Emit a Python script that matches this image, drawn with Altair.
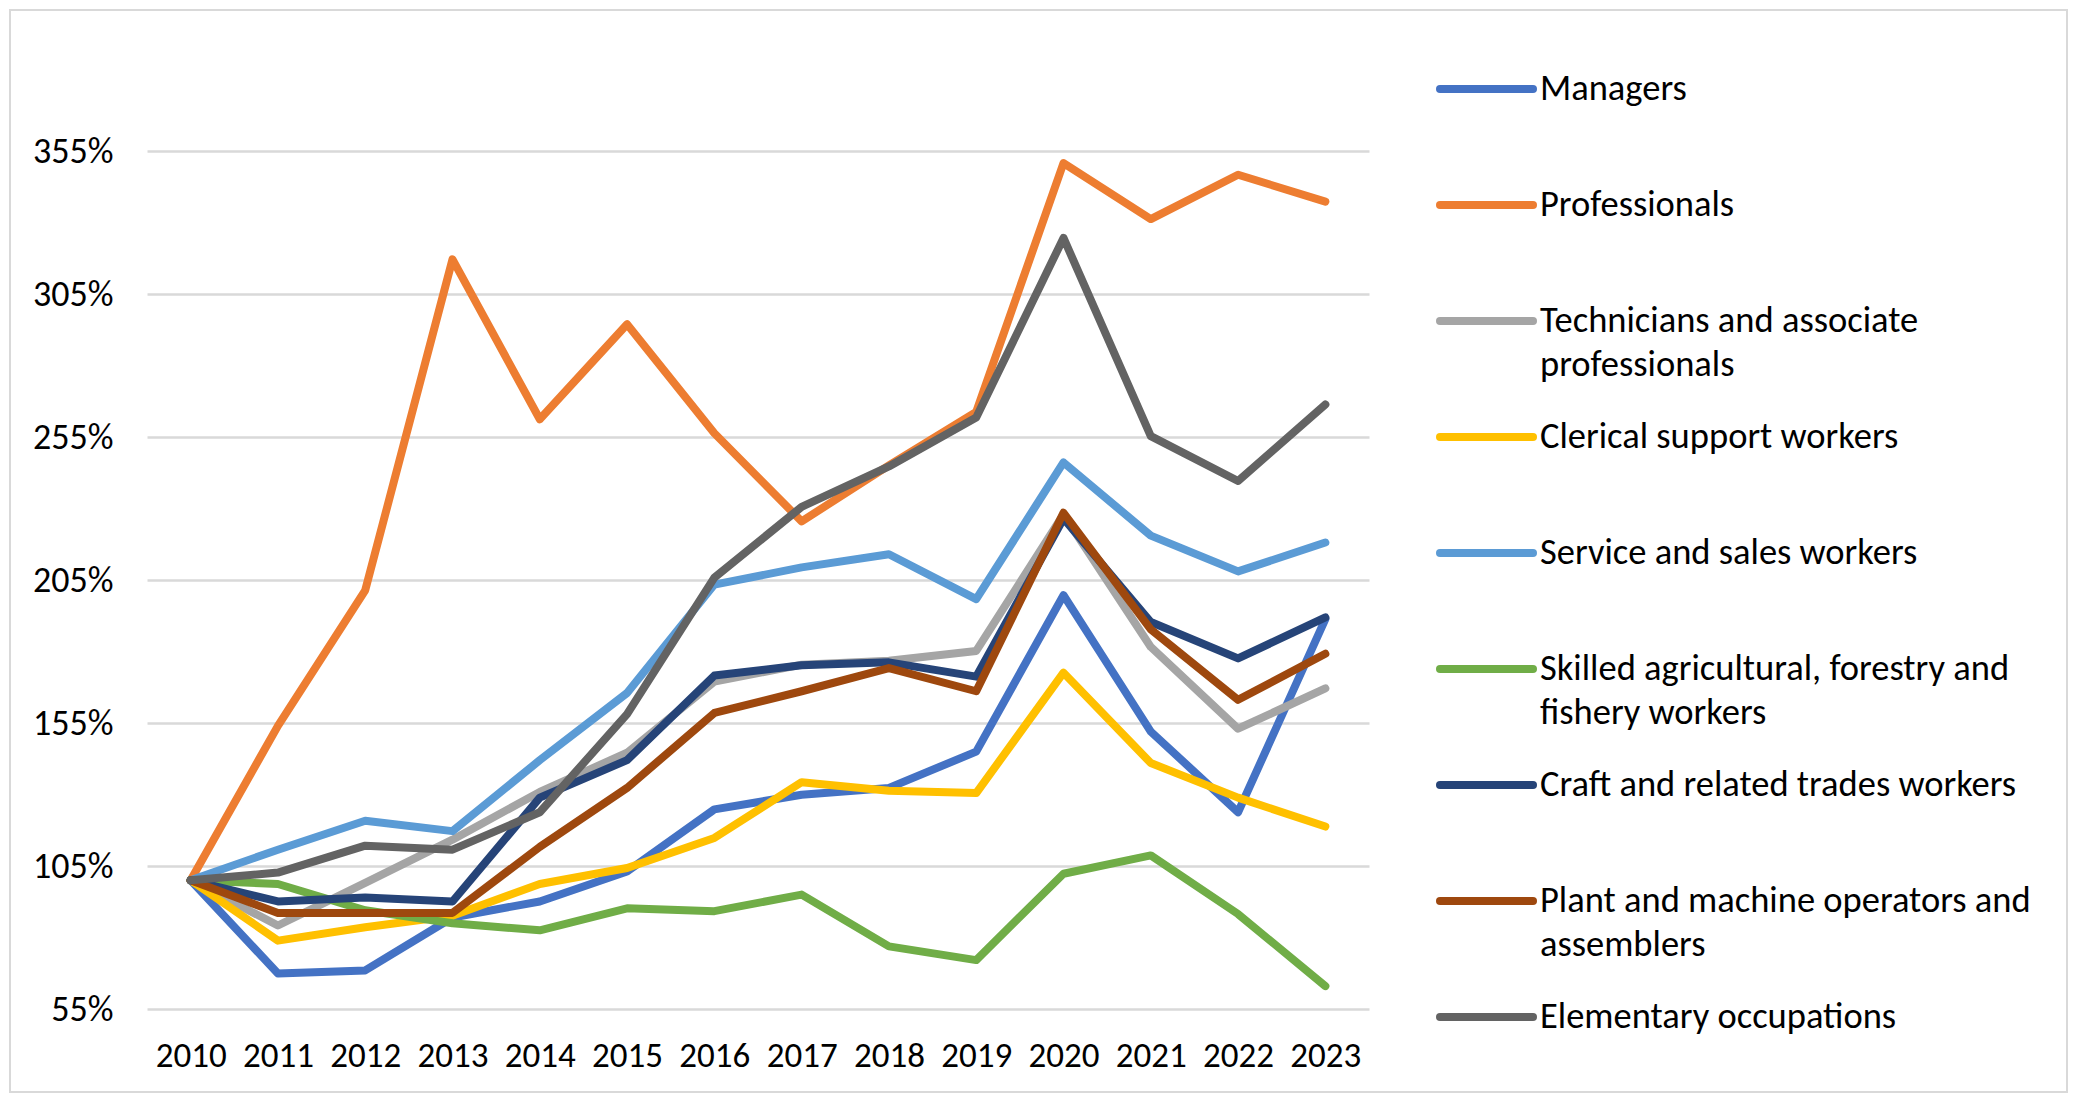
import altair as alt
import pandas as pd

years = [2010, 2011, 2012, 2013, 2014, 2015, 2016, 2017, 2018, 2019, 2020, 2021, 2022, 2023]

series = [
    "Managers",
    "Professionals",
    "Technicians and associate professionals",
    "Clerical support workers",
    "Service and sales workers",
    "Skilled agricultural, forestry and fishery workers",
    "Craft and related trades workers",
    "Plant and machine operators and assemblers",
    "Elementary occupations",
]
legend_line1 = [
    "Managers", "Professionals", "Technicians and associate", "Clerical support workers",
    "Service and sales workers", "Skilled agricultural, forestry and",
    "Craft and related trades workers", "Plant and machine operators and",
    "Elementary occupations",
]
legend_line2 = ["", "", "professionals", "", "", "fishery workers", "", "assemblers", ""]

colors = ["#4472C4", "#ED7D31", "#A5A5A5", "#FFC000", "#5B9BD5",
          "#70AD47", "#264478", "#9E480E", "#636363"]

managers = [100, 67.4, 68.5, 87, 92.6, 103.1, 124.8, 129.9, 132.3, 145, 199.7, 152, 123.8, 191.3]
professionals = [100, 154, 201.4, 317.1, 261.2, 294.4, 256.3, 225.5, 245.1, 263.8, 350.8, 331.2, 346.7, 337.3]
technicians = [100, 84.2, 99.1, 114.2, 130.9, 144.6, 169.5, 175.4, 176.8, 180.2, 227.9, 181.6, 153, 167.1]
clerical = [100, 78.9, 83.6, 87.6, 98.7, 104.3, 114.8, 134.3, 131.3, 130.5, 172.6, 141, 128.9, 118.8]
service = [100, 110.7, 120.8, 117.2, 142, 165.5, 203.4, 209.4, 214, 198.3, 246.1, 220.5, 208, 218.1]
skilled = [100, 98.7, 89.5, 85, 82.5, 90.2, 89.2, 95, 76.9, 72.1, 102.3, 108.7, 88.2, 63]
craft = [100, 92.6, 94, 92.6, 128.9, 142, 171.6, 175.2, 176.2, 171.2, 226.5, 190.3, 177.6, 191.9]
plant = [100, 88.6, 88.6, 88.6, 111.7, 132.3, 158.5, 166.1, 174.2, 166.1, 228.5, 187.7, 163.1, 179.2]
elementary = [100, 102.7, 112.1, 110.7, 123.8, 158.1, 205.8, 230.6, 244.7, 261.8, 324.6, 255.3, 239.6, 266.4]

y_ticks = [55, 105, 155, 205, 255, 305, 355]

all_values = [managers, professionals, technicians, clerical, service,
              skilled, craft, plant, elementary]

rows = []
for s, vals in zip(series, all_values):
    for yr, v in zip(years, vals):
        rows.append({"series": s, "year": yr, "value": v})
df = pd.DataFrame(rows)

df_leg = pd.DataFrame({"series": series, "line1": legend_line1, "line2": legend_line2})
df_border = pd.DataFrame({"k": [0]})

FONT = "Carlito, Calibri, Lato, sans-serif"
W, H = 1222, 858

color_scale = alt.Scale(domain=series, range=colors)

border = alt.Chart(df_border).mark_rect(fillOpacity=0, stroke="#D9D9D9", strokeWidth=2).encode(
    x=alt.value(-137), x2=alt.value(W + 698), y=alt.value(-141), y2=alt.value(H + 83)
)

lines = alt.Chart(df).mark_line(strokeWidth=8, strokeCap="round", strokeJoin="round").encode(
    x=alt.X("year:O", scale=alt.Scale(type="point", padding=0.5),
            axis=alt.Axis(title=None, labelAngle=0, domain=False, ticks=False, grid=False,
                          labelPadding=29, labelFontSize=35, labelFont=FONT, labelColor="#000000")),
    y=alt.Y("value:Q", scale=alt.Scale(domain=[55, 355], nice=False, zero=False),
            axis=alt.Axis(title=None, values=y_ticks, labelExpr="datum.value + '%'",
                          grid=True, gridColor="#D9D9D9", gridWidth=2.5, domain=False, ticks=False,
                          labelPadding=34, labelFontSize=36, labelFont=FONT, labelColor="#000000")),
    color=alt.Color("series:N", scale=color_scale, legend=None),
)

leg_y = alt.Y("series:N", scale=alt.Scale(type="point", domain=series, range=[-62, 866], padding=0),
              axis=None)

sym = alt.Chart(df_leg).mark_rule(strokeWidth=8, strokeCap="round").encode(
    x=alt.value(1293), x2=alt.value(1386), y=leg_y,
    color=alt.Color("series:N", scale=color_scale, legend=None),
)
txt1 = alt.Chart(df_leg).mark_text(align="left", baseline="middle", fontSize=36.5, font=FONT,
                                   color="#000000").encode(
    x=alt.value(1393), y=leg_y, text="line1:N")
txt2 = alt.Chart(df_leg).mark_text(align="left", baseline="middle", fontSize=36.5, font=FONT,
                                   color="#000000", dy=44).encode(
    x=alt.value(1393), y=leg_y, text="line2:N")

chart = alt.layer(border, lines, sym, txt1, txt2).resolve_scale(y="independent").properties(
    width=W, height=H,
    autosize=alt.AutoSizeParams(type="none"),
    padding={"left": 139, "top": 143, "right": 700, "bottom": 85},
    background="white",
).configure_view(stroke=None)

chart.save("out.html", embed_options={"renderer": "svg", "actions": False})
